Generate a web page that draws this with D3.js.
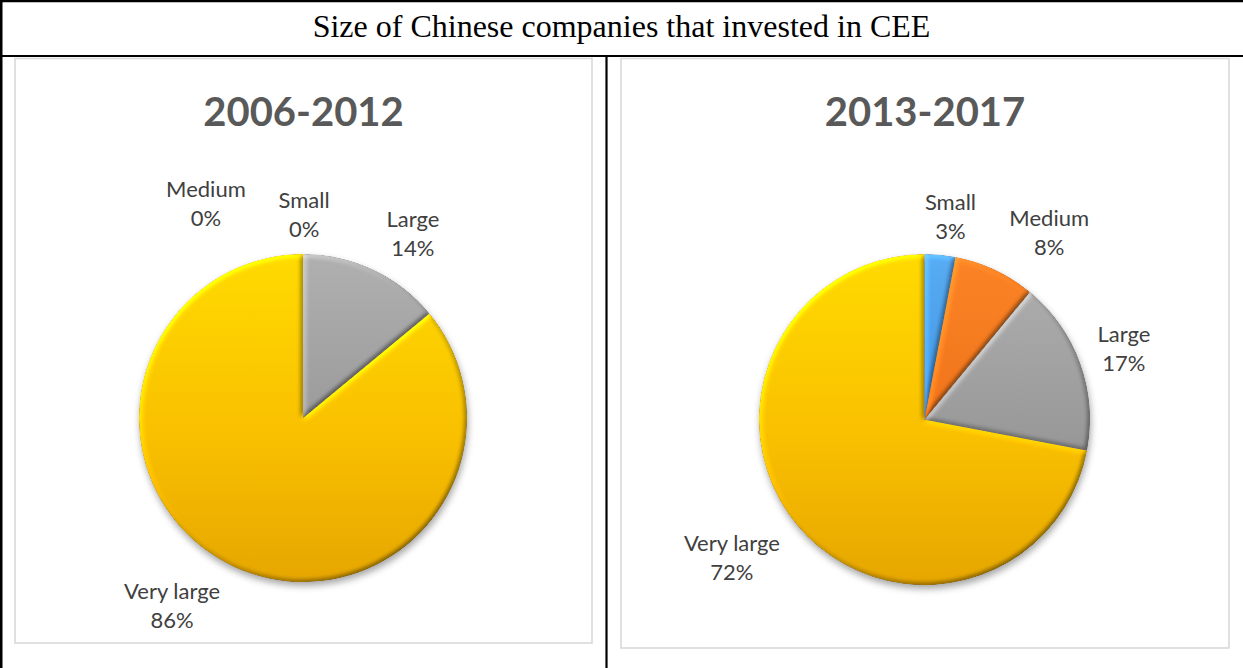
<!DOCTYPE html>
<html>
<head>
<meta charset="utf-8">
<script src="https://cdn.jsdelivr.net/npm/d3@7"></script>
<style>
  body { margin: 0; background: #fff; }
  svg { display: block; }
</style>
</head>
<body>
<svg id="chart" width="1243" height="668"></svg>
<script>
// ---- data ----
const tableTitle = "Size of Chinese companies that invested in CEE";
const categories = ["Small", "Medium", "Large", "Very large"];
const periods = ["2006-2012", "2013-2017"];
const share2006_2012 = [0, 0, 14, 86];
const share2013_2017 = [3, 8, 17, 72];
const seriesByPeriod = [share2006_2012, share2013_2017];

// ---- layout ----
const W = 1243, H = 668;
const panels = [
  { frame: [15, 58.5, 592, 643], cx: 303, cy: 418, r: 164,
    // label placement: angle (deg, clockwise from 12 o'clock) and distance in radii
    labels: [{ a: 0.3, d: 1.238 }, { a: -24.4, d: 1.433 }, { a: 30.7, d: 1.312 }, { a: 215.0, d: 1.392 }] },
  { frame: [621, 58.5, 1229, 648], cx: 924.5, cy: 419.5, r: 165.5,
    labels: [{ a: 7.3, d: 1.235 }, { a: 33.7, d: 1.358 }, { a: 70.5, d: 1.278 }, { a: 234.3, d: 1.433 }] }
];
const sliceColors = [
  ["#58acf3", "#3e92df", "#2b79c9"],  // Small
  ["#fb8426", "#ef7219", "#d45e0c"],  // Medium
  ["#b0b0b0", "#999999", "#7b7b7b"],  // Large
  ["#ffda00", "#f9c000", "#e6a600"]   // Very large
];

const svg = d3.select("#chart");
const defs = svg.append("defs");

// bevelled edge lighting for each slice
const bevel = defs.append("filter").attr("id", "bevel")
  .attr("x", "-5%").attr("y", "-5%").attr("width", "110%").attr("height", "110%")
  .attr("color-interpolation-filters", "sRGB");
bevel.append("feGaussianBlur").attr("in", "SourceAlpha").attr("stdDeviation", 2.5).attr("result", "blur");
bevel.append("feDiffuseLighting").attr("in", "blur").attr("surfaceScale", 2)
  .attr("diffuseConstant", 1).attr("lighting-color", "#ffffff").attr("result", "light")
  .append("feDistantLight").attr("azimuth", 225).attr("elevation", 40);
bevel.append("feComposite").attr("in", "SourceGraphic").attr("in2", "light")
  .attr("operator", "arithmetic").attr("k1", 0.78).attr("k2", 0.5).attr("k3", 0).attr("k4", 0)
  .attr("result", "lit");
bevel.append("feComposite").attr("in", "lit").attr("in2", "SourceAlpha").attr("operator", "in");

// soft drop shadow under each pie
const shadow = defs.append("filter").attr("id", "shadow")
  .attr("x", "-10%").attr("y", "-10%").attr("width", "120%").attr("height", "125%");
shadow.append("feGaussianBlur").attr("in", "SourceAlpha").attr("stdDeviation", 3.5).attr("result", "b");
shadow.append("feOffset").attr("in", "b").attr("dx", 1).attr("dy", 4).attr("result", "o");
shadow.append("feFlood").attr("flood-color", "#000").attr("flood-opacity", 0.35).attr("result", "f");
shadow.append("feComposite").attr("in", "f").attr("in2", "o").attr("operator", "in");

// ---- table lines and title ----
svg.append("text")
  .attr("x", 621.5).attr("y", 37)
  .attr("text-anchor", "middle")
  .attr("font-family", "'Liberation Serif', 'Times New Roman', serif")
  .attr("font-size", 32).attr("fill", "#000")
  .text(tableTitle);

const ruleColor = "#000";
svg.append("line").attr("x1", 0).attr("x2", W).attr("y1", 1).attr("y2", 1)
  .attr("stroke", ruleColor).attr("stroke-width", 2.5);
svg.append("line").attr("x1", 1.25).attr("x2", 1.25).attr("y1", 0).attr("y2", H)
  .attr("stroke", ruleColor).attr("stroke-width", 2.5);
svg.append("line").attr("x1", 0).attr("x2", W).attr("y1", 56).attr("y2", 56)
  .attr("stroke", ruleColor).attr("stroke-width", 2.2);
svg.append("line").attr("x1", 606.5).attr("x2", 606.5).attr("y1", 56).attr("y2", H)
  .attr("stroke", ruleColor).attr("stroke-width", 2.2);

// ---- pies ----
const pie = d3.pie().sort(null).value(d => d);

panels.forEach((p, pi) => {
  const values = seriesByPeriod[pi];
  const [x0, y0, x1, y1] = p.frame;
  const g = svg.append("g");

  g.append("rect")
    .attr("x", x0).attr("y", y0).attr("width", x1 - x0).attr("height", y1 - y0)
    .attr("fill", "#fff").attr("stroke", "#d9d9d9").attr("stroke-width", 1.6);

  g.append("text")
    .attr("x", (x0 + x1) / 2).attr("y", 125.5)
    .attr("text-anchor", "middle")
    .attr("font-family", "Lato, 'Open Sans', sans-serif")
    .attr("font-weight", 700).attr("font-size", 40).attr("fill", "#595959")
    .text(periods[pi]);

  // vertical shading across each pie (in the pie group's local coordinates)
  categories.forEach((c, ci) => {
    const grad = defs.append("linearGradient")
      .attr("id", `grad-${pi}-${ci}`)
      .attr("gradientUnits", "userSpaceOnUse")
      .attr("x1", 0).attr("x2", 0)
      .attr("y1", -p.r).attr("y2", p.r);
    grad.append("stop").attr("offset", "0%").attr("stop-color", sliceColors[ci][0]);
    grad.append("stop").attr("offset", "55%").attr("stop-color", sliceColors[ci][1]);
    grad.append("stop").attr("offset", "100%").attr("stop-color", sliceColors[ci][2]);
  });

  const arc = d3.arc().innerRadius(0).outerRadius(p.r);
  const arcs = pie(values);
  const pieG = g.append("g").attr("transform", `translate(${p.cx},${p.cy})`);

  pieG.append("path")
    .attr("d", arc({ startAngle: 0, endAngle: 2 * Math.PI }))
    .attr("fill", "#000")
    .attr("filter", "url(#shadow)");

  pieG.selectAll("path.slice")
    .data(arcs.filter(d => d.value > 0))
    .join("path")
    .attr("class", "slice")
    .attr("d", arc)
    .attr("fill", d => `url(#grad-${pi}-${d.index})`)
    .attr("filter", "url(#bevel)");

  // data labels: category name and percentage
  pieG.selectAll("text.lab")
    .data(arcs)
    .join("text")
    .attr("class", "lab")
    .attr("text-anchor", "middle")
    .attr("font-family", "Lato, 'Open Sans', sans-serif")
    .attr("font-size", 22).attr("fill", "#404040")
    .each(function (d) {
      const L = p.labels[d.index];
      const ang = L.a * Math.PI / 180;
      const lx = Math.sin(ang) * L.d * p.r;
      const ly = -Math.cos(ang) * L.d * p.r;
      const t = d3.select(this);
      t.append("tspan").attr("x", lx).attr("y", ly - 6.5).text(categories[d.index]);
      t.append("tspan").attr("x", lx).attr("y", ly + 22.5).text(`${d.value}%`);
    });
});
</script>
</body>
</html>
